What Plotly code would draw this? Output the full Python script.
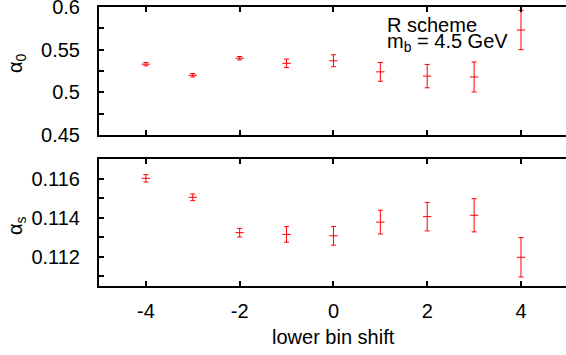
import plotly.graph_objects as go

shift = [-4, -3, -2, -1, 0, 1, 2, 3, 4]
alpha0 = [0.533, 0.520, 0.540, 0.534, 0.537, 0.524, 0.519, 0.518, 0.573]
alpha0_err = [0.002, 0.002, 0.002, 0.005, 0.007, 0.011, 0.0137, 0.0176, 0.023]
alphas = [0.11601, 0.11504, 0.11323, 0.11314, 0.11307, 0.11377, 0.11405, 0.11412, 0.11197]
alphas_err = [0.00019, 0.00017, 0.00022, 0.0004, 0.00048, 0.00061, 0.00073, 0.00085, 0.00101]

top_ticks = [0.45, 0.475, 0.5, 0.525, 0.55, 0.575, 0.6]
top_text = ["0.45", "", "0.5", "", "0.55", "", "0.6"]
bot_ticks = [0.111, 0.112, 0.113, 0.114, 0.115, 0.116]
bot_text = ["", "0.112", "", "0.114", "", "0.116"]
x_ticks = [-4, -2, 0, 2, 4]
x_text = ["-4", "-2", "0", "2", "4"]

FONT = "Liberation Sans, Arial, sans-serif"
FS = 20
RED = "#ff0000"

fig = go.Figure()

def add_series(y, err, xa, ya):
    fig.add_trace(go.Scatter(
        x=shift, y=y, mode="markers", xaxis=xa, yaxis=ya,
        marker=dict(symbol="line-ew", size=6, color=RED, line=dict(color=RED, width=1)),
        error_y=dict(type="data", array=err, visible=True, color=RED, thickness=1, width=2.5),
        showlegend=False,
    ))

add_series(alpha0, alpha0_err, "x2", "y2")
add_series(alphas, alphas_err, "x", "y")

axis_common = dict(showline=True, linecolor="black", linewidth=2, ticks="inside",
                   ticklen=5, tickwidth=1.5, tickcolor="black", showgrid=False, zeroline=False,
                   automargin=False, ticklabeloverflow="allow",
                   tickfont=dict(family=FONT, size=FS, color="black"))

PH = 355 - 0 - 69  # plot area height in px (margin t=0)
PW = 566 - 99

def px_x(x):
    return (x - 99) / PW

def px_y(y):
    return (286 - y) / PH

font = dict(family=FONT, size=FS, color="black")
XR = [-5, 4.96]

fig.update_layout(
    width=566, height=355,
    margin=dict(l=99, r=0, t=0, b=69),
    plot_bgcolor="white", paper_bgcolor="white",
    xaxis=dict(domain=[0, 1], range=XR, tickvals=x_ticks, ticktext=x_text, mirror="allticks",
               anchor="y", ticklabelstandoff=6, **axis_common),
    yaxis=dict(domain=[0, px_y(159)], range=[0.1105, 0.117], tickvals=bot_ticks, ticktext=bot_text,
               anchor="x", ticklabelstandoff=13, **axis_common),
    xaxis2=dict(domain=[0, 1], range=XR, tickvals=x_ticks, mirror="allticks", anchor="y2",
                showticklabels=False, **axis_common),
    yaxis2=dict(domain=[px_y(135), px_y(7)], range=[0.45, 0.6], tickvals=top_ticks, ticktext=top_text,
                anchor="x2", ticklabelstandoff=13, **axis_common),
    annotations=[
        dict(text="lower bin shift", xref="paper", yref="paper", x=px_x(333), y=px_y(337),
             xanchor="center", yanchor="middle", showarrow=False, font=font),
        dict(text="α<sub>0</sub>", xref="paper", yref="paper", x=px_x(16), y=px_y(63),
             xanchor="center", yanchor="middle", showarrow=False, textangle=-90, font=font),
        dict(text="α<sub>s</sub>", xref="paper", yref="paper", x=px_x(16), y=px_y(226),
             xanchor="center", yanchor="middle", showarrow=False, textangle=-90, font=font),
        dict(text="R scheme", xref="paper", yref="paper", x=px_x(385), y=px_y(25),
             xanchor="left", yanchor="middle", showarrow=False, font=font),
        dict(text="m<sub>b</sub> = 4.5 GeV", xref="paper", yref="paper", x=px_x(385), y=px_y(43),
             xanchor="left", yanchor="middle", showarrow=False, font=font),
    ],
)

fig.write_html("out.html", config={"displayModeBar": False},
               post_script="document.body.style.margin='0';document.body.style.overflow='hidden';")
